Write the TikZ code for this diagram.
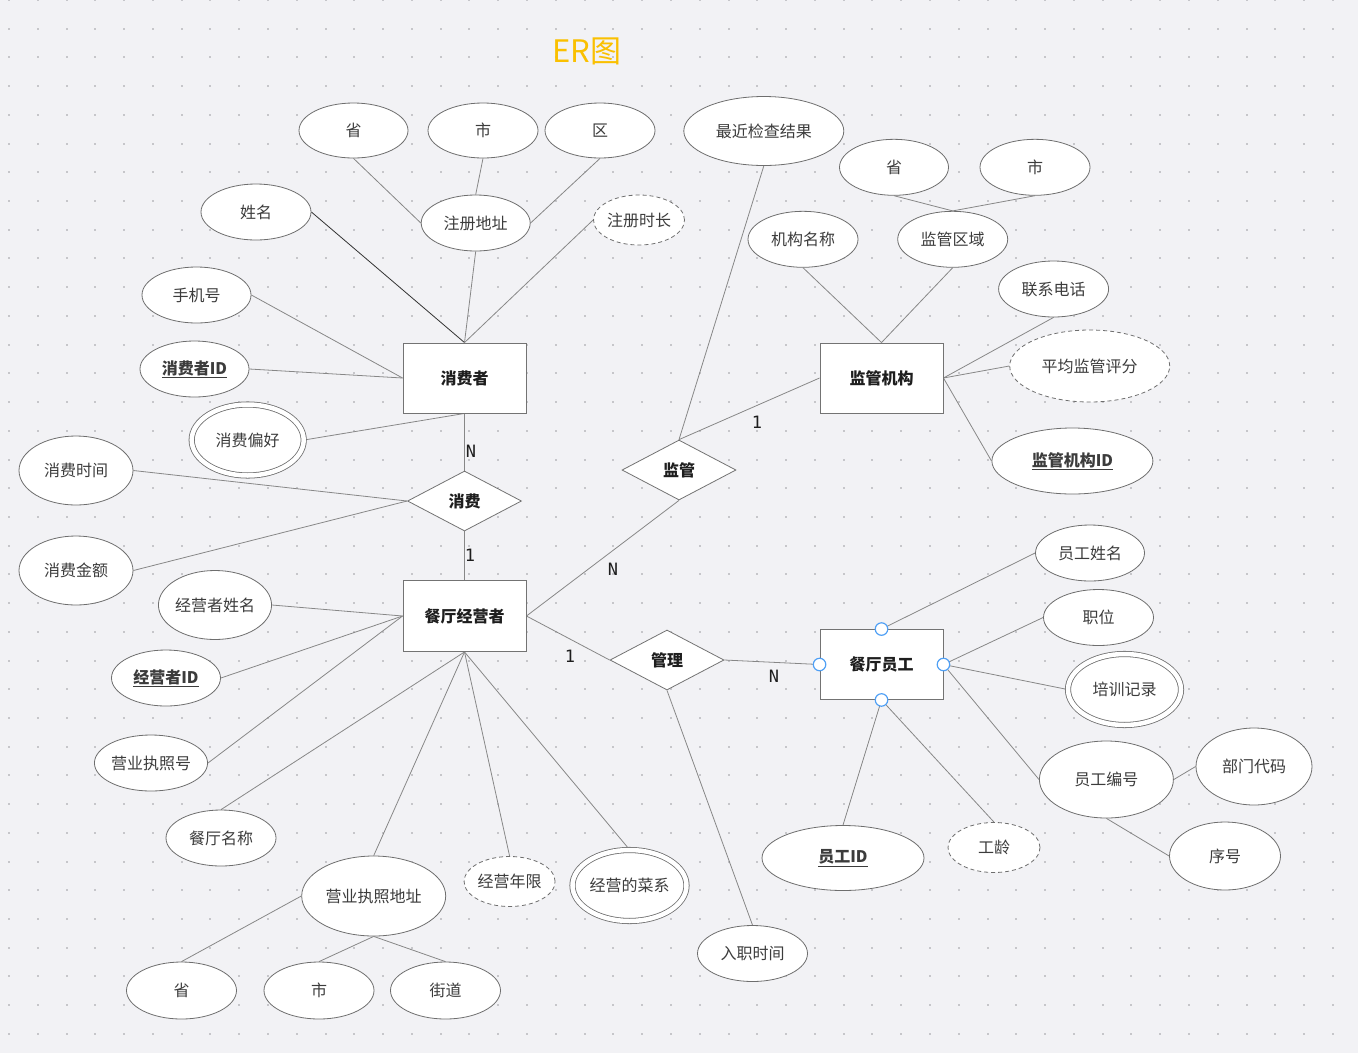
\documentclass[tikz,border=0pt]{standalone}
\usepackage{fontspec}
\setmainfont{Noto Sans CJK SC}
\newfontfamily\cardfont{DejaVu Sans Mono}
\usetikzlibrary{shapes.geometric}
\definecolor{bgc}{RGB}{242,242,245}
\definecolor{dotc}{RGB}{198,198,202}
\definecolor{ellc}{RGB}{110,110,110}
\definecolor{entc}{RGB}{115,115,115}
\definecolor{linec}{RGB}{135,135,135}
\definecolor{darkline}{RGB}{50,50,50}
\definecolor{txtc}{RGB}{60,60,60}
\definecolor{enttxt}{RGB}{30,30,30}
\definecolor{titlec}{RGB}{250,192,0}
\definecolor{portc}{RGB}{80,160,245}
\pgfdeclarelayer{bg}
\pgfsetlayers{bg,main}
\begin{document}
\begin{tikzpicture}[x=1pt,y=-1pt,
  attr/.style={ellipse, draw=ellc, fill=white, line width=0.8pt, inner sep=0pt, text=txtc, font=\fontsize{16}{16}\selectfont},
  dashattr/.style={attr, dash pattern=on 4pt off 3pt},
  dblattr/.style={attr, double=white, double distance=4.5pt},
  ent/.style={rectangle, draw=entc, fill=white, line width=0.9pt, minimum width=123pt, minimum height=70pt, inner sep=0pt, text=enttxt, font=\bfseries\fontsize{16}{16}\selectfont},
  rel/.style={diamond, draw=entc, fill=white, line width=0.8pt, minimum width=114pt, minimum height=60pt, inner sep=0pt, aspect=1.9, text=enttxt, font=\bfseries\fontsize{16}{16}\selectfont},
  conn/.style={draw=linec, line width=0.8pt},
  card/.style={text=enttxt, font=\cardfont\fontsize{17}{17}\selectfont, inner sep=0pt},
  port/.style={circle, draw=portc, fill=white, line width=1.2pt, minimum size=12.5pt, inner sep=0pt}
]
\useasboundingbox (0,0) rectangle (1358,1053);
\begin{pgfonlayer}{bg}
\fill[bgc] (0,0) rectangle (1358,1053);
\foreach \i in {0,...,46}{
  \foreach \j in {0,...,36}{
    \fill[dotc] ({9+28.78*\i-1},{28.72*\j-1}) rectangle +(2,2);
  }
}
\end{pgfonlayer}

% title
\node[text=titlec, font=\fontsize{31}{31}\selectfont, inner sep=0pt] (title) at (587,51) {ER图};

% ---- consumer ----
\node[ent] (xfz) at (464.5,378) {消费者};
\node[rel] (xf) at (464.5,501) {消费};
\node[attr, minimum width=109pt, minimum height=55pt] (sheng1) at (353.5,130.5) {省};
\node[attr, minimum width=110pt, minimum height=55pt] (shi1) at (483,130.5) {市};
\node[attr, minimum width=110pt, minimum height=55pt] (qu1) at (600,130.5) {区};
\node[attr, minimum width=109pt, minimum height=56pt] (zcdz) at (475.7,223) {注册地址};
\node[dashattr, minimum width=91pt, minimum height=50pt] (zcsc) at (639,220) {注册时长};
\node[attr, minimum width=110pt, minimum height=56pt] (xm) at (256,212) {姓名};
\node[attr, minimum width=109pt, minimum height=56pt] (sjh) at (196.5,295) {手机号};
\node[attr, minimum width=109pt, minimum height=56pt] (xfzid) at (194.5,369) {\bfseries\underline{消费者ID}};
\node[dblattr, minimum width=112pt, minimum height=71pt] (xfph) at (247.7,440) {消费偏好};
\node[attr, minimum width=114pt, minimum height=69pt] (xfsj) at (76,470.5) {消费时间};
\node[attr, minimum width=114pt, minimum height=69pt] (xfje) at (76,570.5) {消费金额};

% ---- supervisor ----
\node[ent] (jgjg) at (881.5,378) {监管机构};
\node[rel] (jg) at (679,470) {监管};
\node[attr, minimum width=160pt, minimum height=69pt] (zjjc) at (763.8,131) {最近检查结果};
\node[attr, minimum width=109pt, minimum height=56pt] (sheng2) at (894,167.3) {省};
\node[attr, minimum width=110pt, minimum height=56pt] (shi2) at (1035,167.3) {市};
\node[attr, minimum width=110pt, minimum height=56pt] (jgmc) at (803,239.3) {机构名称};
\node[attr, minimum width=110pt, minimum height=56pt] (jgqy) at (952.7,239.3) {监管区域};
\node[attr, minimum width=110pt, minimum height=56pt] (lxdh) at (1053.6,289) {联系电话};
\node[dashattr, minimum width=160pt, minimum height=72pt] (pjpf) at (1089.7,366) {平均监管评分};
\node[attr, minimum width=161pt, minimum height=66pt] (jgjgid) at (1072.4,461) {\bfseries\underline{监管机构ID}};

% ---- operator ----
\node[ent, minimum height=71pt] (cjyz) at (464.5,616) {餐厅经营者};
\node[rel] (gl) at (667,660) {管理};
\node[attr, minimum width=111pt, minimum height=69pt] (jyzxm) at (215,605) {经营者姓名};
\node[attr, minimum width=109pt, minimum height=56pt] (jyzid) at (166,678) {\bfseries\underline{经营者ID}};
\node[attr, minimum width=109pt, minimum height=56pt] (yyzzh) at (151,763) {营业执照号};
\node[attr, minimum width=110pt, minimum height=56pt] (ctmc) at (221,838) {餐厅名称};
\node[attr, minimum width=144pt, minimum height=80pt] (yyzzdz) at (373.7,896) {营业执照地址};
\node[dashattr, minimum width=91pt, minimum height=50pt] (jynx) at (509.6,881.5) {经营年限};
\node[dblattr, minimum width=114pt, minimum height=71pt] (jycx) at (629.5,885.5) {经营的菜系};
\node[attr, minimum width=110pt, minimum height=57pt] (sheng3) at (181.5,990.5) {省};
\node[attr, minimum width=110pt, minimum height=57pt] (shi3) at (319,990.5) {市};
\node[attr, minimum width=110pt, minimum height=57pt] (jd) at (445.5,990.5) {街道};

% ---- employee ----
\node[ent] (ctyg) at (881.5,664.5) {餐厅员工};
\node[attr, minimum width=109pt, minimum height=56pt] (ygxm) at (1090,553) {员工姓名};
\node[attr, minimum width=110pt, minimum height=56pt] (zw) at (1098.5,617.5) {职位};
\node[dblattr, minimum width=113pt, minimum height=71pt] (pxjl) at (1124.5,689.5) {培训记录};
\node[attr, minimum width=134pt, minimum height=77pt] (ygbh) at (1106.4,779.5) {员工编号};
\node[attr, minimum width=116pt, minimum height=77pt] (bmdm) at (1254,766.5) {部门代码};
\node[attr, minimum width=111pt, minimum height=68pt] (xh) at (1225,856) {序号};
\node[attr, minimum width=162pt, minimum height=65pt] (ygid) at (843,858) {\bfseries\underline{员工ID}};
\node[dashattr, minimum width=92pt, minimum height=50pt] (gl2) at (994,847.5) {工龄};
\node[attr, minimum width=110pt, minimum height=56pt] (rzsj) at (752.5,953.5) {入职时间};

% ---- connectors ----
\begin{pgfonlayer}{bg}
\draw[draw=darkline, line width=0.8pt] (xm.east) -- (xfz.north);
\draw[conn] (zcdz.south) -- (xfz.north);
\draw[conn] (zcsc.west) -- (xfz.north);
\draw[conn] (sheng1.south) -- (zcdz.west);
\draw[conn] (shi1.south) -- (zcdz.north);
\draw[conn] (qu1.south) -- (zcdz.east);
\draw[conn] (sjh.east) -- (xfz.west);
\draw[conn] (xfzid.east) -- (xfz.west);
\draw[conn] (xfph.east) -- (xfz.south);
\draw[conn] (xfz.south) -- (xf.north);
\draw[conn] (xfsj.east) -- (xf.west);
\draw[conn] (xfje.east) -- (xf.west);
\draw[conn] (xf.south) -- (cjyz.north);

\draw[conn] (zjjc.south) -- (jg.north);
\draw[conn] (jg.north) -- (jgjg.west);
\draw[conn] (jg.south) -- (cjyz.east);
\draw[conn] (jgmc.south) -- (jgjg.north);
\draw[conn] (jgqy.south) -- (jgjg.north);
\draw[conn] (sheng2.south) -- (jgqy.north);
\draw[conn] (shi2.south) -- (jgqy.north);
\draw[conn] (lxdh.south) -- (jgjg.east);
\draw[conn] (pjpf.west) -- (jgjg.east);
\draw[conn] (jgjgid.west) -- (jgjg.east);

\draw[conn] (jyzxm.east) -- (cjyz.west);
\draw[conn] (jyzid.east) -- (cjyz.west);
\draw[conn] (yyzzh.east) -- (cjyz.west);
\draw[conn] (ctmc.north) -- (cjyz.south);
\draw[conn] (yyzzdz.north) -- (cjyz.south);
\draw[conn] (jynx.north) -- (cjyz.south);
\draw[conn] (jycx.north) -- (cjyz.south);
\draw[conn] (yyzzdz.west) -- (sheng3.north);
\draw[conn] (yyzzdz.south) -- (shi3.north);
\draw[conn] (yyzzdz.south) -- (jd.north);
\draw[conn] (cjyz.east) -- (gl.west);
\draw[conn] (gl.east) -- (ctyg.west);
\draw[conn] (gl.south) -- (rzsj.north);

\draw[conn] (ygxm.west) -- (ctyg.north);
\draw[conn] (zw.west) -- (ctyg.east);
\draw[conn] (pxjl.west) -- (ctyg.east);
\draw[conn] (ygbh.west) -- (ctyg.east);
\draw[conn] (ygid.north) -- (ctyg.south);
\draw[conn] (gl2.north) -- (ctyg.south);
\draw[conn] (bmdm.west) -- (ygbh.east);
\draw[conn] (xh.west) -- (ygbh.south);
\end{pgfonlayer}

% ports on 餐厅员工
\node[port] (pt) at (ctyg.north) {};
\node[port] (pl) at (ctyg.west) {};
\node[port] (pr) at (ctyg.east) {};
\node[port] (pb) at (ctyg.south) {};

% cardinalities
\node[card] (c1) at (471,451) {N};
\node[card] (c2) at (470,555) {1};
\node[card] (c3) at (757,422) {1};
\node[card] (c4) at (613,569) {N};
\node[card] (c5) at (570,656) {1};
\node[card] (c6) at (774,676) {N};
\end{tikzpicture}
\end{document}
